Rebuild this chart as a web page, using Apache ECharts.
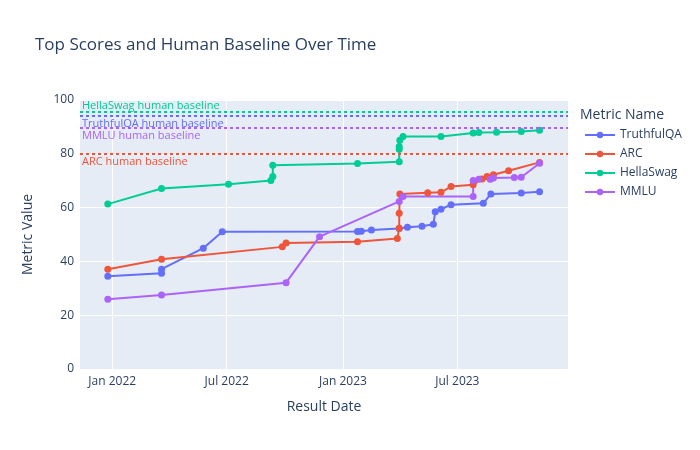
<!DOCTYPE html>
<html>
<head>
<meta charset="utf-8">
<script src="https://cdn.jsdelivr.net/npm/echarts@6/dist/echarts.min.js"></script>
<style>html,body{margin:0;padding:0;background:#fff}#c{width:700px;height:450px}</style>
</head>
<body>
<div id="c"></div>
<script>
const seriesNames = ['TruthfulQA', 'ARC', 'HellaSwag', 'MMLU'];
const truthfulQA = [
  ['2021-12-25', 34.5], ['2022-03-20', 35.6], ['2022-03-20', 37.1], ['2022-05-25', 44.9],
  ['2022-06-24', 51.0], ['2023-01-24', 51.1], ['2023-01-30', 51.2], ['2023-02-15', 51.7],
  ['2023-03-31', 52.2], ['2023-04-13', 52.7], ['2023-05-06', 53.1], ['2023-05-24', 53.8],
  ['2023-05-27', 58.5], ['2023-06-05', 59.4], ['2023-06-21', 61.1], ['2023-08-11', 61.6],
  ['2023-08-23', 65.1], ['2023-10-10', 65.4], ['2023-11-08', 65.9]
];
const arc = [
  ['2021-12-25', 37.1], ['2022-03-20', 40.8], ['2022-09-27', 45.4], ['2022-10-03', 46.8],
  ['2023-01-24', 47.3], ['2023-03-28', 48.5], ['2023-03-31', 52.3], ['2023-03-31', 57.9],
  ['2023-04-01', 65.1], ['2023-05-15', 65.5], ['2023-06-05', 65.7], ['2023-06-21', 67.8],
  ['2023-07-26', 68.5], ['2023-08-09', 70.6], ['2023-08-17', 71.6], ['2023-08-27', 72.2],
  ['2023-09-20', 73.7], ['2023-11-08', 76.8]
];
const hellaSwag = [
  ['2021-12-25', 61.3], ['2022-03-20', 67.1], ['2022-07-04', 68.7], ['2022-09-09', 70.1],
  ['2022-09-12', 71.6], ['2022-09-12', 75.7], ['2023-01-24', 76.4], ['2023-03-31', 77.0],
  ['2023-03-31', 81.7], ['2023-03-31', 82.7], ['2023-04-01', 85.0], ['2023-04-06', 86.4],
  ['2023-06-05', 86.4], ['2023-07-26', 87.7], ['2023-08-04', 87.9], ['2023-09-01', 88.0],
  ['2023-10-10', 88.3], ['2023-11-08', 88.8]
];
const mmlu = [
  ['2021-12-25', 25.9], ['2022-03-20', 27.5], ['2022-10-03', 32.1], ['2022-11-25', 49.2],
  ['2023-03-31', 62.3], ['2023-04-06', 64.1], ['2023-07-26', 64.1], ['2023-07-26', 70.1],
  ['2023-08-04', 70.5], ['2023-08-22', 70.5], ['2023-08-27', 71.0], ['2023-09-29', 71.2],
  ['2023-10-10', 71.3], ['2023-11-08', 76.5]
];
const baselines = [94.0, 80.0, 95.6, 89.8];
const baselineLabels = ['TruthfulQA human baseline', 'ARC human baseline', 'HellaSwag human baseline', 'MMLU human baseline'];
const tickDates = ['2022-01-01', '2022-07-01', '2023-01-01', '2023-07-01'];
const tickLabels = ['Jan 2022', 'Jul 2022', 'Jan 2023', 'Jul 2023'];
const yTicks = [0, 20, 40, 60, 80, 100];

const colors = ['#636efa', '#EF553B', '#00cc96', '#ab63fa'];
const allData = [truthfulQA, arc, hellaSwag, mmlu];
const labelPos = ['insideStartBottom', 'insideStartBottom', 'insideStartTop', 'insideStartBottom'];
const labelDist = [[2, 2], [2, 3], [2, 0], [2, 3]];

function ts(s) { const p = s.split('-').map(Number); return Date.UTC(p[0], p[1] - 1, p[2]); }
const tickTs = tickDates.map(ts);
const font = '"Open Sans", verdana, arial, sans-serif';
const txt = '#2a3f5f';

const chart = echarts.init(document.getElementById('c'), null, { renderer: 'canvas' });
chart.setOption({
  animation: false,
  color: colors,
  textStyle: { fontFamily: font, color: txt },
  title: [
    { text: 'Top Scores and Human Baseline Over Time', left: 30, top: 32,
      textStyle: { fontFamily: font, fontSize: 17, fontWeight: 'normal', color: txt } },
    { text: 'Metric Name', left: 575, top: 103,
      textStyle: { fontFamily: font, fontSize: 14, fontWeight: 'normal', color: txt } }
  ],
  legend: {
    orient: 'vertical', left: 579, top: 124, itemWidth: 30, itemHeight: 8, itemGap: 7,
    data: seriesNames,
    textStyle: { fontFamily: font, fontSize: 12, color: txt }
  },
  grid: { left: 80, right: 132, top: 100, bottom: 81, show: true, backgroundColor: '#E5ECF6', borderWidth: 0 },
  xAxis: {
    type: 'value', min: ts('2021-11-11'), max: ts('2023-12-23'),
    name: 'Result Date', nameLocation: 'middle', nameGap: 31,
    nameTextStyle: { fontFamily: font, fontSize: 14, color: txt },
    axisLine: { show: false }, axisTick: { show: false, customValues: tickTs },
    axisLabel: { customValues: tickTs, color: txt, fontSize: 12, fontFamily: font, margin: 7,
      formatter: function (v) { const i = tickTs.indexOf(v); return i >= 0 ? tickLabels[i] : ''; } },
    splitLine: { show: true, lineStyle: { color: '#ffffff', width: 1 } }
  },
  yAxis: {
    type: 'value', min: 0, max: 100, interval: 20,
    name: 'Metric Value', nameLocation: 'middle', nameGap: 45,
    nameTextStyle: { fontFamily: font, fontSize: 14, color: txt },
    axisLine: { show: false }, axisTick: { show: false },
    axisLabel: { color: txt, fontSize: 12, fontFamily: font, margin: 6,
      formatter: function (v) { return yTicks.indexOf(v) >= 0 ? String(v) : ''; } },
    splitLine: { show: true, lineStyle: { color: '#ffffff', width: 1 } }
  },
  series: seriesNames.map(function (n, i) {
    return {
      name: n, type: 'line',
      data: allData[i].map(function (d) { return [ts(d[0]), d[1]]; }),
      symbol: 'circle', symbolSize: 7, showSymbol: true,
      lineStyle: { width: 2, color: colors[i] }, itemStyle: { color: colors[i] },
      markLine: {
        silent: true, symbol: 'none',
        lineStyle: { type: [3, 3], width: 2, color: colors[i] },
        label: { show: true, position: labelPos[i], formatter: baselineLabels[i],
          color: colors[i], fontSize: 11, fontFamily: font, distance: labelDist[i] },
        data: [{ yAxis: baselines[i] }]
      }
    };
  })
});
</script>
</body>
</html>
